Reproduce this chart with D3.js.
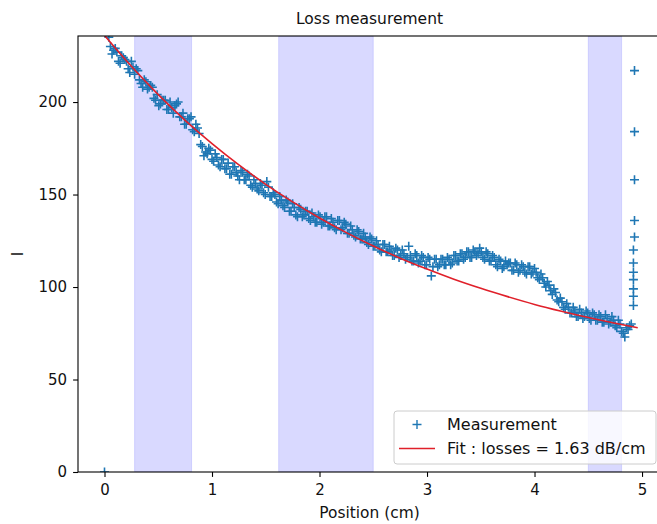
<!DOCTYPE html>
<html>
<head>
<meta charset="utf-8">
<script src="https://cdn.jsdelivr.net/npm/d3@7"></script>
<style>
  body { margin: 0; background: #fff; }
  svg { display: block; font-family: "DejaVu Sans", sans-serif; }
</style>
</head>
<body>
<div id="vis"></div>
<script>
const FRAME_WIDTH = 657;
const FRAME_HEIGHT = 524;
const MARGINS = { top: 36, left: 78 };
const VIS_WIDTH = 583;
const VIS_HEIGHT = 436;

const X_DOMAIN = [-0.2465, 5.1765];
const Y_DOMAIN = [0, 235.7];
const X_TICKS = [0, 1, 2, 3, 4, 5];
const Y_TICKS = [0, 50, 100, 150, 200];

// shaded regions (cm)
const BAND_START = [0.28, 1.62, 4.5];
const BAND_END = [0.81, 2.5, 4.81];

// measurement, first half of samples
const MEAS_X = [
  0,
  0.04, 0.07, 0.10, 0.13, 0.16, 0.19, 0.22, 0.25, 0.28, 0.31,
  0.34, 0.37, 0.40, 0.43, 0.46, 0.49, 0.52, 0.55, 0.58, 0.61,
  0.64, 0.67, 0.70, 0.73, 0.76, 0.79, 0.82, 0.85, 0.88, 0.91,
  0.94, 0.97, 1.00, 1.03, 1.06, 1.09, 1.12, 1.15, 1.18, 1.21,
  1.24, 1.27, 1.30, 1.33, 1.36, 1.39, 1.42, 1.45, 1.48, 1.51,
  1.54, 1.57, 1.60, 1.63, 1.66, 1.69, 1.72, 1.75, 1.78, 1.81,
  1.84, 1.87, 1.90, 1.93, 1.96, 1.99, 2.02, 2.05, 2.08, 2.11,
  2.14, 2.17, 2.20, 2.23, 2.26, 2.29, 2.32, 2.35, 2.38, 2.41,
  2.44, 2.47, 2.50, 2.53, 2.56, 2.59, 2.62, 2.65, 2.68, 2.71,
  2.74, 2.77, 2.80, 2.83, 2.86, 2.89, 2.92, 2.95, 2.98, 3.01,
  3.04, 3.07, 3.10, 3.13, 3.16, 3.19, 3.22, 3.25, 3.28, 3.31,
  3.34, 3.37, 3.40, 3.43, 3.46, 3.49, 3.52, 3.55, 3.58, 3.61,
  3.64, 3.67, 3.70, 3.73, 3.76, 3.79, 3.82, 3.85, 3.88, 3.91,
  3.94, 3.97, 4.00, 4.03, 4.06, 4.09, 4.12, 4.15, 4.18, 4.21,
  4.24, 4.27, 4.30, 4.33, 4.36, 4.39, 4.42, 4.45, 4.48, 4.51,
  4.54, 4.57, 4.60, 4.63, 4.66, 4.69, 4.72, 4.75, 4.78, 4.81,
  4.84, 4.87, 4.90,
  4.92, 4.92, 4.92, 4.92, 4.92, 4.92, 4.92, 4.93, 4.93, 4.93, 4.93, 4.93
];
const MEAS_I = [
  0,
  235, 226, 229, 222, 225, 223, 218, 222, 215, 217,
  210, 212, 207, 209, 202, 204, 199, 201, 196, 200,
  194, 199, 192, 194, 188, 191, 185, 188, 183, 176,
  173, 175, 169, 172, 166, 169, 164, 167, 161, 165,
  160, 163, 158, 161, 155, 158, 153, 156, 151, 157,
  149, 151, 146, 149, 144, 147, 141, 145, 139, 143,
  138, 141, 137, 140, 135, 139, 134, 138, 133, 137,
  132, 136, 131, 135, 129, 133, 128, 131, 126, 129,
  124, 127, 122, 125, 120, 123, 119, 122, 117, 121,
  116, 120, 115, 122, 114, 118, 113, 117, 112, 116,
  106, 115, 111, 115, 112, 116, 112, 117, 114, 118,
  115, 119, 116, 120, 117, 121, 116, 119, 114, 117,
  112, 115, 110, 114, 113, 109, 113, 108, 112, 108,
  111, 107, 110, 105, 107, 102, 103, 98, 99, 93,
  94, 89, 91, 86, 89, 84, 88, 83, 87, 83,
  86, 82, 85, 81, 85, 80, 84, 79, 82, 76,
  73, 77, 80,
  90, 95, 99, 104, 108, 113, 120, 127, 136, 158, 184, 217
];

// measurement, samples in between
const MEAS2_X = [
  0.055, 0.085, 0.115, 0.145, 0.175, 0.205, 0.235, 0.265, 0.295, 0.325,
  0.355, 0.385, 0.415, 0.445, 0.475, 0.505, 0.535, 0.565, 0.595, 0.625,
  0.655, 0.685, 0.715, 0.745, 0.775, 0.805, 0.835, 0.865, 0.895, 0.925,
  0.955, 0.985, 1.015, 1.045, 1.075, 1.105, 1.135, 1.165, 1.195, 1.225,
  1.255, 1.285, 1.315, 1.345, 1.375, 1.405, 1.435, 1.465, 1.495, 1.525,
  1.555, 1.585, 1.615, 1.645, 1.675, 1.705, 1.735, 1.765, 1.795, 1.825,
  1.855, 1.885, 1.915, 1.945, 1.975, 2.005, 2.035, 2.065, 2.095, 2.125,
  2.155, 2.185, 2.215, 2.245, 2.275, 2.305, 2.335, 2.365, 2.395, 2.425,
  2.455, 2.485, 2.515, 2.545, 2.575, 2.605, 2.635, 2.665, 2.695, 2.725,
  2.755, 2.785, 2.815, 2.845, 2.875, 2.905, 2.935, 2.965, 2.995, 3.025,
  3.055, 3.085, 3.115, 3.145, 3.175, 3.205, 3.235, 3.265, 3.295, 3.325,
  3.355, 3.385, 3.415, 3.445, 3.475, 3.505, 3.535, 3.565, 3.595, 3.625,
  3.655, 3.685, 3.715, 3.745, 3.775, 3.805, 3.835, 3.865, 3.895, 3.925,
  3.955, 3.985, 4.015, 4.045, 4.075, 4.105, 4.135, 4.165, 4.195, 4.225,
  4.255, 4.285, 4.315, 4.345, 4.375, 4.405, 4.435, 4.465, 4.495, 4.525,
  4.555, 4.585, 4.615, 4.645, 4.675, 4.705, 4.735, 4.765, 4.795, 4.825,
  4.855, 4.885
];
const MEAS2_I = [
  230, 228, 227, 221, 224, 222, 216, 219, 218, 212,
  208, 211, 208, 208, 201, 198, 201, 201, 196, 197,
  198, 200, 192, 188, 191, 192, 184, 186, 177, 171,
  172, 174, 168, 170, 165, 169, 164, 161, 165, 162,
  158, 162, 158, 160, 154, 156, 152, 155, 150, 154,
  149, 150, 145, 147, 143, 146, 141, 143, 138, 142,
  139, 141, 136, 138, 135, 138, 135, 138, 133, 135,
  131, 136, 132, 134, 129, 131, 127, 130, 126, 127,
  123, 126, 122, 123, 119, 123, 119, 120, 117, 120,
  117, 118, 116, 117, 114, 117, 114, 116, 112, 115,
  111, 115, 112, 115, 112, 115, 113, 117, 114, 118,
  116, 119, 116, 119, 118, 119, 115, 118, 114, 116,
  111, 114, 111, 112, 113, 109, 112, 109, 111, 107,
  111, 108, 108, 104, 105, 100, 101, 96, 97, 92,
  92, 88, 89, 86, 87, 84, 86, 84, 86, 82,
  85, 82, 84, 81, 83, 81, 82, 78, 80, 75,
  78, 79
];

// fit curve
const FIT_X = [0, 0.25, 0.5, 0.75, 1, 1.25, 1.5, 1.75, 2, 2.25, 2.5,
  2.75, 3, 3.25, 3.5, 3.75, 4, 4.25, 4.5, 4.75, 4.96];
const FIT_I = [236, 219.3, 204, 190.1, 177.5, 166, 155.5, 146, 137.3, 129.4, 122.2,
  115.6, 109.7, 104.2, 99.3, 94.8, 90.6, 86.9, 83.5, 80.4, 78];

const TITLE = "Loss measurement";
const X_LABEL = "Position (cm)";
const Y_LABEL = "I";
const LEGEND_LABELS = ["Measurement", "Fit : losses = 1.63 dB/cm"];

const BLUE = "#1f77b4";
const RED = "#e0202a";
const TICK_FONT = 15;
const LABEL_FONT = 15.4;
const LEGEND_FONT = 16;

const FRAME = d3
  .select("#vis")
  .append("svg")
  .attr("width", FRAME_WIDTH)
  .attr("height", FRAME_HEIGHT);

const X_SCALE = d3.scaleLinear().domain(X_DOMAIN).range([0, VIS_WIDTH]);
const Y_SCALE = d3.scaleLinear().domain(Y_DOMAIN).range([VIS_HEIGHT, 0]);

FRAME.append("defs")
  .append("clipPath")
  .attr("id", "clip")
  .append("rect")
  .attr("width", VIS_WIDTH)
  .attr("height", VIS_HEIGHT);

const PLOT = FRAME.append("g")
  .attr("transform", `translate(${MARGINS.left},${MARGINS.top})`);

const DATA_G = PLOT.append("g").attr("clip-path", "url(#clip)");

// bands
DATA_G.selectAll(".band")
  .data(BAND_START)
  .enter()
  .append("rect")
  .attr("class", "band")
  .attr("x", (d) => X_SCALE(d))
  .attr("y", 0)
  .attr("width", (d, i) => X_SCALE(BAND_END[i]) - X_SCALE(d))
  .attr("height", VIS_HEIGHT)
  .attr("fill", "rgba(0,0,255,0.15)")
  .attr("stroke", "rgba(0,0,255,0.12)")
  .attr("stroke-width", 1);

// measurement markers
const PLUS = "M-4.5,0H4.5M0,-4.5V4.5";
const ALL_X = MEAS_X.concat(MEAS2_X);
const ALL_I = MEAS_I.concat(MEAS2_I);

DATA_G.selectAll(".pt")
  .data(ALL_X)
  .enter()
  .append("path")
  .attr("class", "pt")
  .attr("d", PLUS)
  .attr("transform", (d, i) => `translate(${X_SCALE(d)},${Y_SCALE(ALL_I[i])})`)
  .attr("fill", "none")
  .attr("stroke", BLUE)
  .attr("stroke-width", 1.6);

// fit
const FIT_LINE = d3
  .line()
  .x((d) => X_SCALE(d))
  .y((d, i) => Y_SCALE(FIT_I[i]))
  .curve(d3.curveMonotoneX);

DATA_G.append("path")
  .datum(FIT_X)
  .attr("d", FIT_LINE)
  .attr("fill", "none")
  .attr("stroke", RED)
  .attr("stroke-width", 1.6);

// axes
const X_AXIS = PLOT.append("g")
  .attr("transform", `translate(0,${VIS_HEIGHT})`)
  .call(
    d3.axisBottom(X_SCALE)
      .tickValues(X_TICKS)
      .tickFormat(d3.format("d"))
      .tickSize(4.9)
      .tickPadding(7.5)
      .tickSizeOuter(0)
  );

const Y_AXIS = PLOT.append("g")
  .call(
    d3.axisLeft(Y_SCALE)
      .tickValues(Y_TICKS)
      .tickFormat(d3.format("d"))
      .tickSize(4.9)
      .tickPadding(6)
      .tickSizeOuter(0)
  );

[X_AXIS, Y_AXIS].forEach((ax) => {
  ax.select(".domain").remove();
  ax.selectAll("line").attr("stroke", "black").attr("stroke-width", 1.1);
  ax.selectAll("text")
    .attr("fill", "#111")
    .style("font-size", TICK_FONT + "px")
    .style("font-family", "DejaVu Sans");
});

// spines
PLOT.append("rect")
  .attr("width", VIS_WIDTH)
  .attr("height", VIS_HEIGHT)
  .attr("fill", "none")
  .attr("stroke", "black")
  .attr("stroke-width", 1.1);

// legend
const LEG_W = 262;
const LEG_H = 53;
const LEG_X = VIS_WIDTH - 5 - LEG_W;
const LEG_Y = VIS_HEIGHT - 8 - LEG_H;
const LEGEND = PLOT.append("g").attr("transform", `translate(${LEG_X},${LEG_Y})`);

LEGEND.append("rect")
  .attr("width", LEG_W)
  .attr("height", LEG_H)
  .attr("rx", 3)
  .attr("fill", "rgba(255,255,255,0.8)")
  .attr("stroke", "#cccccc")
  .attr("stroke-width", 1);

LEGEND.append("path")
  .attr("d", PLUS)
  .attr("transform", "translate(23,13.5)")
  .attr("fill", "none")
  .attr("stroke", BLUE)
  .attr("stroke-width", 1.4);

LEGEND.append("line")
  .attr("x1", 5)
  .attr("x2", 41)
  .attr("y1", 37.5)
  .attr("y2", 37.5)
  .attr("stroke", RED)
  .attr("stroke-width", 1.6);

LEGEND.selectAll(".legtext")
  .data(LEGEND_LABELS)
  .enter()
  .append("text")
  .attr("x", 53)
  .attr("y", (d, i) => 13.5 + i * 24)
  .attr("dy", "0.35em")
  .attr("fill", "#111")
  .style("font-size", LEGEND_FONT + "px")
  .text((d) => d);

// labels
FRAME.append("text")
  .attr("x", MARGINS.left + VIS_WIDTH / 2)
  .attr("y", 24)
  .attr("text-anchor", "middle")
  .attr("fill", "#111")
  .style("font-size", "15.5px")
  .text(TITLE);

FRAME.append("text")
  .attr("x", MARGINS.left + VIS_WIDTH / 2)
  .attr("y", 518)
  .attr("text-anchor", "middle")
  .attr("fill", "#111")
  .style("font-size", LABEL_FONT + "px")
  .text(X_LABEL);

FRAME.append("text")
  .attr("transform", `translate(23,${MARGINS.top + VIS_HEIGHT / 2}) rotate(-90)`)
  .attr("text-anchor", "middle")
  .attr("fill", "#111")
  .style("font-size", LABEL_FONT + "px")
  .text(Y_LABEL);
</script>
</body>
</html>
